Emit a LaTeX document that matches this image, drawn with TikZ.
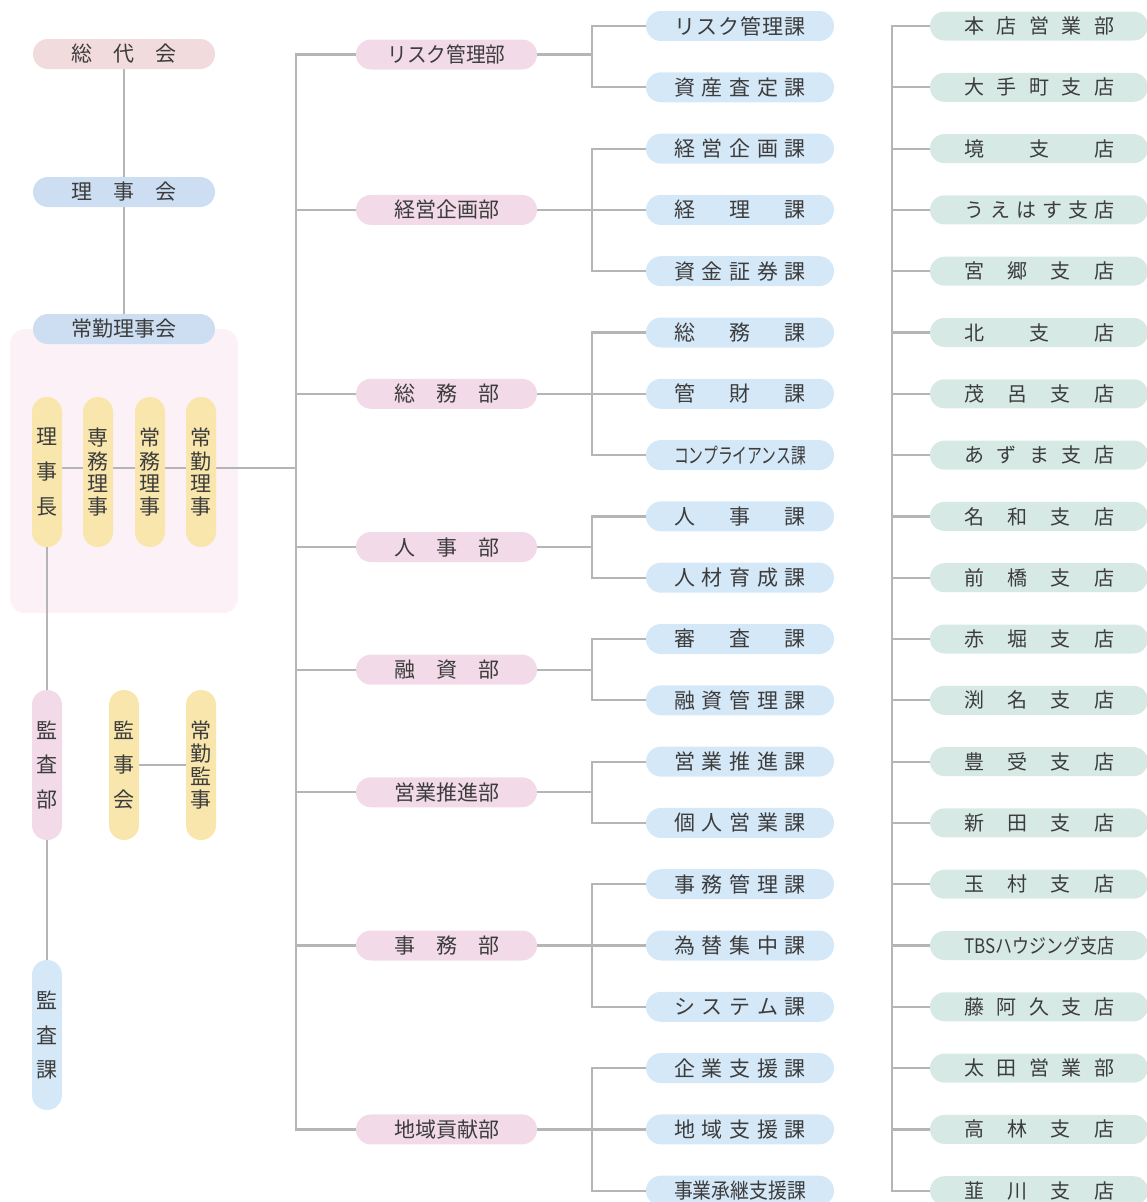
\documentclass[tikz,border=0pt]{standalone}
\usepackage{fontspec}
\setmainfont{Noto Sans CJK JP}
\usetikzlibrary{calc}
\pgfdeclarelayer{back}
\pgfdeclarelayer{lines}
\pgfsetlayers{back,lines,main}
\definecolor{txt}{HTML}{3C3C3C}
\definecolor{linec}{HTML}{B5B5B5}
\definecolor{sodaic}{HTML}{F2DBDD}
\definecolor{rijic}{HTML}{CDDEF2}
\definecolor{bgc}{HTML}{FCF1F7}
\definecolor{yelc}{HTML}{F9E6AC}
\definecolor{deptc}{HTML}{F2DAE8}
\definecolor{sectc}{HTML}{D5E8F8}
\definecolor{brc}{HTML}{D6E9E4}
\makeatletter
\def\ds@loop#1{\ifx#1\relax\else\hfill#1\expandafter\ds@loop\fi}
\def\ds@first#1{#1\ds@loop}
\newcommand\ds[2]{\makebox[#1][s]{\ds@first#2\relax}}
\def\vs@loop#1{\ifx#1\relax\else\vfill\hbox{#1}\expandafter\vs@loop\fi}
\def\vs@first#1{\hbox{#1}\vs@loop}
\newcommand\vs[2]{\vbox to #1{\offinterlineskip\vs@first#2\relax}}
\makeatother
\newcommand\sq[2]{\resizebox{#1}{\height}{#2}}
\tikzset{
  pill/.style={rectangle, rounded corners=14.9pt, minimum height=30pt, inner sep=0pt, text=txt, font=\fontsize{21}{24}\selectfont},
  toppill/.style={pill, minimum width=182pt},
  dept/.style={pill, fill=deptc, minimum width=181pt},
  sect/.style={pill, fill=sectc, minimum width=188pt},
  branch/.style={pill, fill=brc, minimum width=218pt, minimum height=29pt, rounded corners=14.4pt, font=\fontsize{20}{24}\selectfont},
  vpill/.style={rectangle, rounded corners=14.9pt, minimum width=30pt, minimum height=150pt, inner sep=0pt, text=txt, font=\fontsize{21}{24}\selectfont},
  conn/.style={draw=linec, line width=2.2pt, line cap=rect}
}
\begin{document}
\begin{tikzpicture}[x=1pt,y=-1pt]
\useasboundingbox (0,0) rectangle (1146,1202);
% left column
\node[toppill, fill=sodaic] (sodai) at (124,54) {\ds{105pt}{総代会}};
\node[toppill, fill=rijic] (rijikai) at (124,192) {\ds{105pt}{理事会}};
\node[toppill, fill=rijic] (jokin) at (124,329) {常勤理事会};
\begin{pgfonlayer}{back}
\fill[bgc, rounded corners=15pt] (10,329) rectangle (238,613);
\end{pgfonlayer}
\node[vpill, fill=yelc] (rj1) at (47,472) {\vs{86pt}{理事長}};
\node[vpill, fill=yelc] (rj2) at (98,472) {\vs{86pt}{専務理事}};
\node[vpill, fill=yelc] (rj3) at (150,472) {\vs{86pt}{常務理事}};
\node[vpill, fill=yelc] (rj4) at (201,472) {\vs{86pt}{常勤理事}};
\node[vpill, fill=deptc] (kansabu) at (47,765) {\vs{86pt}{監査部}};
\node[vpill, fill=yelc] (kanjikai) at (124,765) {\vs{86pt}{監事会}};
\node[vpill, fill=yelc] (jkanji) at (201,765) {\vs{86pt}{常勤監事}};
\node[vpill, fill=sectc] (kansaka) at (47,1035) {\vs{86pt}{監査課}};
% sections
\foreach \t [count=\i from 0] in {
  {\ds{132pt}{リスク管理課}}, {\ds{132pt}{資産査定課}}, {\ds{132pt}{経営企画課}},
  {\ds{132pt}{経理課}}, {\ds{132pt}{資金証券課}}, {\ds{132pt}{総務課}},
  {\ds{132pt}{管財課}}, {\sq{132pt}{コンプライアンス課}}, {\ds{132pt}{人事課}},
  {\ds{132pt}{人材育成課}}, {\ds{132pt}{審査課}}, {\ds{132pt}{融資管理課}},
  {\ds{132pt}{営業推進課}}, {\ds{132pt}{個人営業課}}, {\ds{132pt}{事務管理課}},
  {\ds{132pt}{為替集中課}}, {\ds{132pt}{システム課}}, {\ds{132pt}{企業支援課}},
  {\ds{132pt}{地域支援課}}, {\sq{132pt}{事業承継支援課}}}
  \node[sect] (s\i) at (740,{26+61.3*\i}) {\t};
% branches
\foreach \t [count=\i from 0] in {
  {\ds{150pt}{本店営業部}}, {\ds{150pt}{大手町支店}}, {\ds{150pt}{境支店}},
  {\ds{150pt}{うえはす支店}}, {\ds{150pt}{宮郷支店}}, {\ds{150pt}{北支店}},
  {\ds{150pt}{茂呂支店}}, {\ds{150pt}{あずま支店}}, {\ds{150pt}{名和支店}},
  {\ds{150pt}{前橋支店}}, {\ds{150pt}{赤堀支店}}, {\ds{150pt}{渕名支店}},
  {\ds{150pt}{豊受支店}}, {\ds{150pt}{新田支店}}, {\ds{150pt}{玉村支店}},
  {\sq{150pt}{TBSハウジング支店}}, {\ds{150pt}{藤阿久支店}}, {\ds{150pt}{太田営業部}},
  {\ds{150pt}{高林支店}}, {\ds{150pt}{韮川支店}}}
  \node[branch] (b\i) at (1039,{26+61.3*\i}) {\t};
% departments
\node[dept] (d1) at (446.5,54.5) {\sq{118pt}{リスク管理部}};
\node[dept] (d2) at (446.5,{26+61.3*3}) {経営企画部};
\node[dept] (d3) at (446.5,{26+61.3*6}) {\ds{105pt}{総務部}};
\node[dept] (d4) at (446.5,{26+61.3*8.5}) {\ds{105pt}{人事部}};
\node[dept] (d5) at (446.5,{26+61.3*10.5}) {\ds{105pt}{融資部}};
\node[dept] (d6) at (446.5,{26+61.3*12.5}) {営業推進部};
\node[dept] (d7) at (446.5,{26+61.3*15}) {\ds{105pt}{事務部}};
\node[dept] (d8) at (446.5,{26+61.3*18}) {地域貢献部};
\coordinate (mx) at (296,0);
\coordinate (bx) at (592,0);
\coordinate (rx) at (892,0);
\coordinate (jl) at (296,468);
\begin{pgfonlayer}{lines}
\draw[conn] (sodai) -- (rijikai);
\draw[conn] (rijikai) -- (jokin);
\draw[conn] (rj1) -- (kansabu);
\draw[conn] (kansabu) -- (kansaka);
\draw[conn] (kanjikai) -- (jkanji);
\draw[conn] (rj1.east |- jl) -- (jl);
\draw[conn] (d1.west -| mx) -- (d8.west -| mx);
\foreach \k in {1,...,8} \draw[conn] (d\k.west) -- (d\k.west -| mx);
% brackets
\draw[conn] (s0.west) -- (s0.west -| bx) -- (s1.west -| bx) -- (s1.west);
\draw[conn] (d1.east) -- (d1.east -| bx);
\draw[conn] (s2.west) -- (s2.west -| bx) -- (s4.west -| bx) -- (s4.west);
\draw[conn] (d2.east) -- (s3.west);
\draw[conn] (s5.west) -- (s5.west -| bx) -- (s7.west -| bx) -- (s7.west);
\draw[conn] (d3.east) -- (s6.west);
\draw[conn] (s8.west) -- (s8.west -| bx) -- (s9.west -| bx) -- (s9.west);
\draw[conn] (d4.east) -- (d4.east -| bx);
\draw[conn] (s10.west) -- (s10.west -| bx) -- (s11.west -| bx) -- (s11.west);
\draw[conn] (d5.east) -- (d5.east -| bx);
\draw[conn] (s12.west) -- (s12.west -| bx) -- (s13.west -| bx) -- (s13.west);
\draw[conn] (d6.east) -- (d6.east -| bx);
\draw[conn] (s14.west) -- (s14.west -| bx) -- (s16.west -| bx) -- (s16.west);
\draw[conn] (d7.east) -- (s15.west);
\draw[conn] (s17.west) -- (s17.west -| bx) -- (s19.west -| bx) -- (s19.west);
\draw[conn] (d8.east) -- (s18.west);
% branches
\draw[conn] (b0.west -| rx) -- (b19.west -| rx);
\foreach \k in {0,...,19} \draw[conn] (b\k.west) -- (b\k.west -| rx);
\end{pgfonlayer}
\end{tikzpicture}
\end{document}
